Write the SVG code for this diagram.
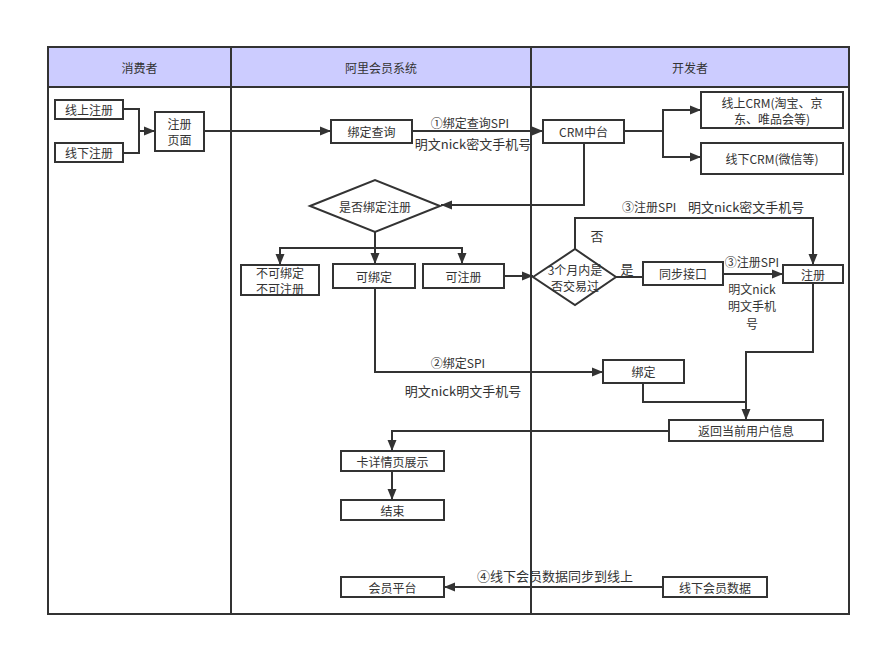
<svg xmlns="http://www.w3.org/2000/svg" width="881" height="647" viewBox="0 0 881 647">
<style>
.frame{fill:none;stroke:#333;stroke-width:2}
.hdr{fill:#ccccff;stroke:#333;stroke-width:2}
.box{fill:#fff;stroke:#333;stroke-width:2}
.t{font-family:"Noto Sans CJK SC","Liberation Sans",sans-serif;font-size:12px;fill:#333;text-anchor:middle;dominant-baseline:central}
.l13{font-size:13px}
.st{text-anchor:start}
.c{fill:none;stroke:#333;stroke-width:2}
</style>
<defs>
<marker id="a" markerUnits="userSpaceOnUse" markerWidth="12" markerHeight="12" viewBox="0 0 12 12" refX="11" refY="6" orient="auto"><path d="M0,1.5 L11,6 L0,10.5 Z" fill="#333"/></marker>
</defs>
<rect width="881" height="647" fill="#fff"/>
<g id="lanes">
<rect class="hdr" x="48" y="47" width="801" height="40"/>
<rect class="frame" x="48" y="47" width="801" height="567"/>
<line class="frame" x1="231" y1="47" x2="231" y2="614"/>
<line class="frame" x1="531" y1="47" x2="531" y2="614"/>
<text class="t" x="139.5" y="67">消费者</text>
<text class="t" x="381" y="67">阿里会员系统</text>
<text class="t" x="690" y="67">开发者</text>
</g>
<g id="connectors">
<polyline class="c" points="123,109 139,109 139,153 123,153"/>
<line class="c" x1="139" y1="131" x2="155" y2="131" marker-end="url(#a)"/>
<line class="c" x1="204" y1="131" x2="331" y2="131" marker-end="url(#a)"/>
<line class="c" x1="412" y1="131" x2="543" y2="131" marker-end="url(#a)"/>
<line class="c" x1="624" y1="131" x2="663" y2="131"/>
<line class="c" x1="663" y1="109" x2="663" y2="158"/>
<line class="c" x1="662" y1="110" x2="701" y2="110" marker-end="url(#a)"/>
<line class="c" x1="662" y1="157" x2="701" y2="157" marker-end="url(#a)"/>
<polyline class="c" points="584,143 584,205 441,205" marker-end="url(#a)"/>
<line class="c" x1="375" y1="232" x2="375" y2="248"/>
<line class="c" x1="279" y1="248" x2="463" y2="248"/>
<line class="c" x1="280" y1="248" x2="280" y2="265" marker-end="url(#a)"/>
<line class="c" x1="375" y1="248" x2="375" y2="264" marker-end="url(#a)"/>
<line class="c" x1="462" y1="248" x2="462" y2="264" marker-end="url(#a)"/>
<line class="c" x1="504" y1="276" x2="533" y2="276" marker-end="url(#a)"/>
<polyline class="c" points="575,249 575,218 813,218 813,265" marker-end="url(#a)"/>
<line class="c" x1="616" y1="277" x2="643" y2="277"/>
<line class="c" x1="723" y1="274" x2="783" y2="274" marker-end="url(#a)"/>
<polyline class="c" points="375,288 375,372 603,372" marker-end="url(#a)"/>
<polyline class="c" points="813,283 813,352 746,352 746,420" marker-end="url(#a)"/>
<polyline class="c" points="643,383 643,402 746,402"/>
<polyline class="c" points="669,431 392,431 392,451" marker-end="url(#a)"/>
<line class="c" x1="392" y1="471" x2="392" y2="500" marker-end="url(#a)"/>
<line class="c" x1="663" y1="587" x2="444" y2="587" marker-end="url(#a)"/>
<text class="t" x="470" y="122">①绑定查询SPI</text>
<text class="t l13" x="473" y="143">明文nick密文手机号</text>
<text class="t st" x="622" y="206">③注册SPI</text>
<text class="t l13 st" x="688" y="206">明文nick密文手机号</text>
<text class="t l13" x="597" y="235">否</text>
<text class="t l13" x="627" y="268">是</text>
<text class="t" x="752" y="261">③注册SPI</text>
<text class="t" x="752" y="288">明文nick</text>
<text class="t" x="752" y="305.5">明文手机</text>
<text class="t" x="752" y="323">号</text>
<text class="t" x="458" y="362">②绑定SPI</text>
<text class="t l13" x="463" y="390">明文nick明文手机号</text>
<text class="t l13" x="555" y="575">④线下会员数据同步到线上</text>
</g>
<g id="n1"><rect class="box" x="55" y="100" width="68" height="19"/><text class="t" x="89" y="109.5">线上注册</text></g>
<g id="n2"><rect class="box" x="55" y="143" width="68" height="19"/><text class="t" x="89" y="152.5">线下注册</text></g>
<g id="n3"><rect class="box" x="155" y="112" width="49" height="39"/><text class="t" x="179.5" y="123.5">注册</text><text class="t" x="179.5" y="139.5">页面</text></g>
<g id="n4"><rect class="box" x="331" y="120" width="81" height="23"/><text class="t" x="371.5" y="131.5">绑定查询</text></g>
<g id="n5"><rect class="box" x="543" y="120" width="81" height="23"/><text class="t" x="583.5" y="131.5">CRM中台</text></g>
<g id="n6"><rect class="box" x="701" y="92" width="142" height="36"/><text class="t" x="772" y="102">线上CRM(淘宝、京</text><text class="t" x="772" y="118">东、唯品会等)</text></g>
<g id="n7"><rect class="box" x="701" y="143" width="142" height="31"/><text class="t" x="772" y="158.5">线下CRM(微信等)</text></g>
<g id="n8"><polygon class="box" points="310,206 375,180 440,206 375,232"/><text class="t" x="375" y="206">是否绑定注册</text></g>
<g id="n9"><rect class="box" x="241" y="265" width="78" height="30"/><text class="t" x="280" y="272.5">不可绑定</text><text class="t" x="280" y="288">不可注册</text></g>
<g id="n10"><rect class="box" x="333" y="264" width="82" height="24"/><text class="t" x="374" y="276">可绑定</text></g>
<g id="n11"><rect class="box" x="423" y="264" width="81" height="24"/><text class="t" x="463.5" y="276">可注册</text></g>
<g id="n12"><polygon class="box" points="533,277 575,249 616,277 575,305"/><text class="t" x="575" y="269">3个月内是</text><text class="t" x="575" y="285">否交易过</text></g>
<g id="n13"><rect class="box" x="643" y="262" width="80" height="23"/><text class="t" x="683" y="273.5">同步接口</text></g>
<g id="n14"><rect class="box" x="783" y="265" width="60" height="18"/><text class="t" x="813" y="274">注册</text></g>
<g id="n15"><rect class="box" x="603" y="360" width="81" height="23"/><text class="t" x="643.5" y="371.5">绑定</text></g>
<g id="n16"><rect class="box" x="669" y="420" width="154" height="21"/><text class="t" x="746" y="430.5">返回当前用户信息</text></g>
<g id="n17"><rect class="box" x="341" y="451" width="103" height="20"/><text class="t" x="392.5" y="461">卡详情页展示</text></g>
<g id="n18"><rect class="box" x="341" y="500" width="103" height="20"/><text class="t" x="392.5" y="510">结束</text></g>
<g id="n19"><rect class="box" x="341" y="577" width="103" height="20"/><text class="t" x="392.5" y="587">会员平台</text></g>
<g id="n20"><rect class="box" x="663" y="577" width="104" height="20"/><text class="t" x="715" y="587">线下会员数据</text></g>
</svg>
